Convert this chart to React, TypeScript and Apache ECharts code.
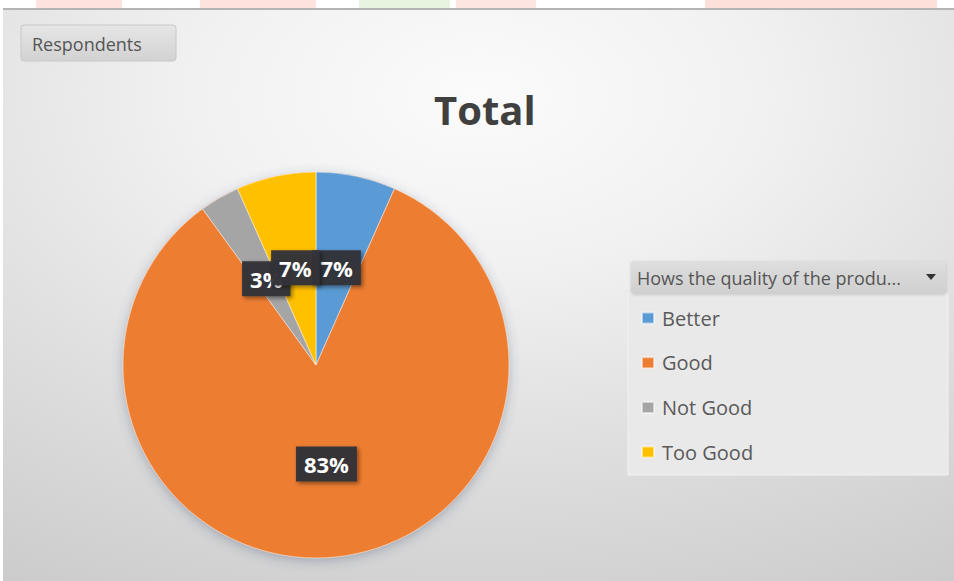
import React, { useEffect, useRef } from "react";
import * as echarts from "echarts";

const categories = ["Better", "Good", "Not Good", "Too Good"];
const respondents = [4, 50, 2, 4];
const sliceColors = ["#5b9bd5", "#ed7d31", "#a5a5a5", "#ffc000"];
const chartTitle = "Total";
const fieldButton = "Respondents";
const legendHeader = "Hows the quality of the produ...";

const FONT = "'Open Sans', 'Noto Sans', sans-serif";

export default function App() {
  const ref = useRef<HTMLDivElement>(null);
  useEffect(() => {
    document.body.style.margin = "0";
    if (!ref.current) return;
    const chart = echarts.init(ref.current, null, { renderer: "svg" });
    const option: any = {
      animation: false,
      title: {
        text: chartTitle,
        left: 429,
        top: 84,
        textStyle: { fontFamily: FONT, fontSize: 40, fontWeight: "bold", color: "#404040" },
      },
      legend: {
        orient: "vertical",
        left: 636,
        top: 302,
        data: categories,
        icon: "rect",
        itemWidth: 12,
        itemHeight: 11,
        itemGap: 22.7,
        selectedMode: false,
        textStyle: { fontFamily: FONT, fontSize: 20, color: "#595959", lineHeight: 22, padding: [0, 0, 0, 3] },
        z: 10,
      },
      graphic: [
        { type: "rect", z: -10, shape: { x: 0, y: 0, width: 954, height: 581 }, style: { fill: "#ffffff" } },
        { type: "rect", z: -9, shape: { x: 36, y: 0, width: 86, height: 8 }, style: { fill: "#fde2de" } },
        { type: "rect", z: -9, shape: { x: 200, y: 0, width: 116, height: 8 }, style: { fill: "#fde2de" } },
        { type: "rect", z: -9, shape: { x: 359, y: 0, width: 91, height: 8 }, style: { fill: "#e7f5e0" } },
        { type: "rect", z: -9, shape: { x: 456, y: 0, width: 80, height: 8 }, style: { fill: "#fde6e2" } },
        { type: "rect", z: -9, shape: { x: 705, y: 0, width: 232, height: 8 }, style: { fill: "#fde0da" } },
        { type: "rect", z: -8, shape: { x: 3, y: 8, width: 951, height: 2 }, style: { fill: "#b4b4b4" } },
        {
          type: "rect",
          z: -8,
          shape: { x: 3, y: 10, width: 951, height: 571 },
          style: {
            fill: {
              type: "radial",
              x: 0.5,
              y: 0.15,
              r: 1.2,
              colorStops: [
                { offset: 0, color: "#fbfbfb" },
                { offset: 0.25, color: "#f1f1f1" },
                { offset: 0.5, color: "#e0e0e0" },
                { offset: 0.8, color: "#cdcdcd" },
                { offset: 1, color: "#c3c3c3" },
              ],
            },
          },
        },
        {
          type: "rect",
          z: -5,
          shape: { x: 21, y: 25, width: 155, height: 36, r: 3 },
          style: {
            fill: {
              type: "linear", x: 0, y: 0, x2: 0, y2: 1,
              colorStops: [
                { offset: 0, color: "#e6e6e6" },
                { offset: 1, color: "#d2d2d2" },
              ],
            },
            stroke: "#c8c8c8",
            lineWidth: 1,
          },
        },
        {
          type: "text",
          z: -4,
          x: 32,
          y: 44,
          style: { text: fieldButton, fontFamily: FONT, fontSize: 18, fill: "#555555", verticalAlign: "middle" },
        },
        {
          type: "rect",
          z: -5,
          shape: { x: 628, y: 294, width: 320, height: 181 },
          style: { fill: "#e9e9e9", stroke: "#f2f2f2", lineWidth: 1 },
        },
        {
          type: "rect",
          z: -4,
          shape: { x: 631, y: 261, width: 315, height: 33, r: 3 },
          style: {
            fill: {
              type: "linear", x: 0, y: 0, x2: 0, y2: 1,
              colorStops: [
                { offset: 0, color: "#dedede" },
                { offset: 1, color: "#cfcfcf" },
              ],
            },
            shadowBlur: 3,
            shadowColor: "rgba(0,0,0,0.15)",
            shadowOffsetY: 1,
          },
        },
        {
          type: "text",
          z: -3,
          x: 637,
          y: 278,
          style: { text: legendHeader, fontFamily: FONT, fontSize: 18, fill: "#555555", verticalAlign: "middle" },
        },
        {
          type: "polygon",
          z: -3,
          shape: { points: [[926, 274], [936, 274], [931, 280]] },
          style: { fill: "#333333" },
        },
      ],
      series: [
        {
          type: "pie",
          silent: true,
          z: 1,
          center: [316, 365],
          radius: 193,
          label: { show: false },
          labelLine: { show: false },
          legendHoverLink: false,
          data: [{ value: 1, name: "shadow", itemStyle: { color: "#ed7d31" } }],
          itemStyle: { shadowBlur: 12, shadowColor: "rgba(60,80,110,0.35)", shadowOffsetY: 3 },
          emphasis: { disabled: true },
          tooltip: { show: false },
        },
        {
          type: "pie",
          z: 2,
          center: [316, 365],
          radius: 193,
          startAngle: 90,
          clockwise: true,
          avoidLabelOverlap: false,
          labelLayout: { hideOverlap: false },
          emphasis: { disabled: true },
          itemStyle: { borderColor: "rgba(255,255,255,0.5)", borderWidth: 1 },
          labelLine: { show: false },
          label: {
            show: true,
            position: "inside",
            formatter: (p: any) => Math.round(p.percent) + "%",
            fontFamily: FONT,
            fontSize: 22,
            fontWeight: "bold",
            color: "#ffffff",
            backgroundColor: "rgba(50,52,56,0.96)",
            padding: [7, 8, 6, 8],
            shadowBlur: 4,
            shadowColor: "rgba(0,0,0,0.45)",
            shadowOffsetX: 2,
            shadowOffsetY: 2,
          },
          data: categories.map((name, i) => ({
            name,
            value: respondents[i],
            itemStyle: { color: sliceColors[i] },
          })),
        },
      ],
    };
    chart.setOption(option);
    return () => chart.dispose();
  }, []);
  return (
    <div
      ref={ref}
      style={{ position: "absolute", left: 0, top: 0, width: 954, height: 581 }}
    />
  );
}
